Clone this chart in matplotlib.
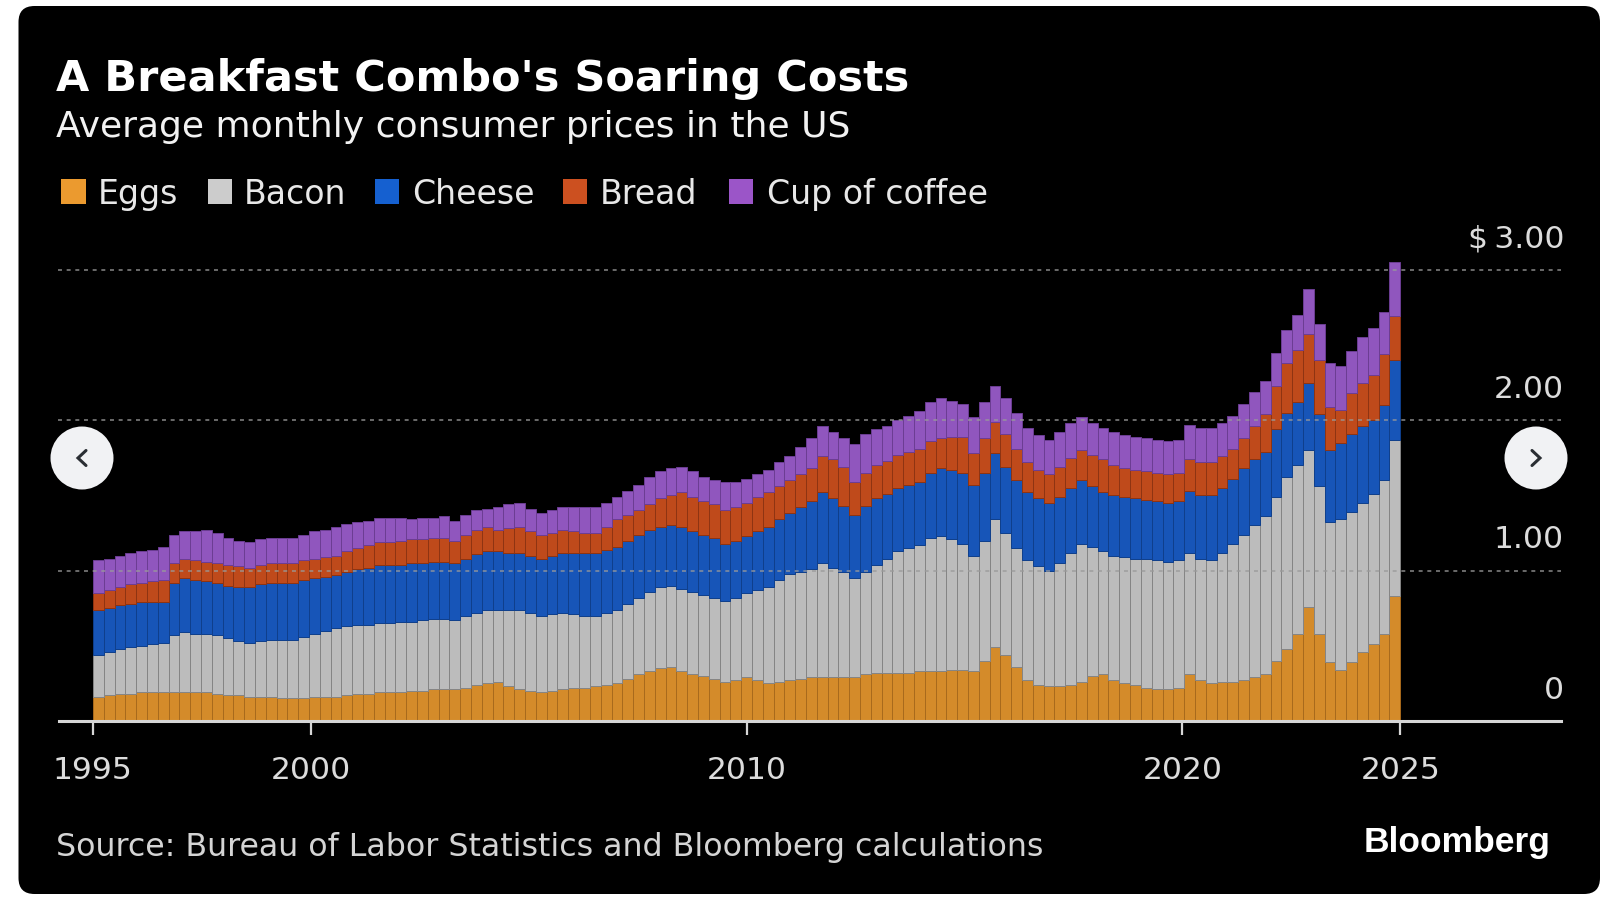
import numpy as np
import matplotlib
matplotlib.use("Agg")
import matplotlib.pyplot as plt
from matplotlib import font_manager
from matplotlib.patches import FancyBboxPatch, Rectangle, Circle
from matplotlib.lines import Line2D

# ---------------- data (quarterly, 1995Q1 .. 2025Q1), US$ ----------------
quarters = [f"{y}Q{q}" for y in range(1995, 2025) for q in range(1, 5)] + ["2025Q1"]

eggs = [
    .16, .17, .18, .18,  .19, .19, .19, .19,  .19, .19, .19, .18,  .17, .17, .16, .16,
    .16, .15, .15, .15,  .16, .16, .16, .17,  .18, .18, .19, .19,  .19, .20, .20, .21,
    .21, .21, .22, .24,  .25, .26, .23, .21,  .20, .19, .20, .21,  .22, .22, .23, .24,
    .25, .28, .31, .33,  .35, .36, .33, .31,  .30, .28, .26, .27,  .29, .27, .25, .26,
    .27, .28, .29, .29,  .29, .29, .29, .31,  .32, .32, .32, .32,  .33, .33, .33, .34,
    .34, .33, .40, .49,  .44, .36, .27, .24,  .23, .23, .24, .26,  .30, .31, .27, .25,
    .24, .22, .21, .21,  .22, .31, .27, .25,  .26, .26, .27, .29,  .31, .40, .48, .58,
    .76, .58, .39, .34,  .39, .46, .51, .58,  .83,
]
bacon = [
    .28, .29, .30, .31,  .31, .32, .33, .38,  .40, .39, .39, .39,  .38, .36, .36, .37,
    .38, .39, .39, .41,  .42, .44, .46, .46,  .46, .46, .46, .46,  .47, .46, .47, .47,
    .47, .46, .48, .48,  .49, .48, .51, .53,  .52, .51, .51, .51,  .49, .48, .47, .48,
    .49, .50, .51, .53,  .54, .54, .55, .55,  .54, .54, .54, .55,  .56, .60, .64, .68,
    .71, .71, .72, .76,  .73, .70, .66, .68,  .72, .76, .81, .83,  .84, .89, .90, .87,
    .84, .77, .80, .85,  .81, .79, .80, .79,  .77, .82, .88, .92,  .86, .82, .83, .84,
    .84, .86, .86, .85,  .85, .81, .81, .82,  .86, .92, .97, 1.01, 1.05, 1.09, 1.14, 1.12,
    1.04, .98, .93, 1.00, 1.00, .99, 1.00, 1.02, 1.04,
]
cheese = [
    .30, .29, .29, .29,  .29, .28, .27, .35,  .36, .36, .35, .35,  .35, .36, .37, .38,
    .38, .38, .38, .38,  .37, .36, .35, .36,  .37, .38, .39, .39,  .38, .39, .38, .38,
    .38, .38, .38, .39,  .39, .39, .38, .38,  .38, .38, .39, .40,  .41, .42, .42, .42,
    .42, .42, .42, .41,  .40, .40, .41, .40,  .40, .40, .38, .38,  .38, .39, .40, .40,
    .40, .43, .45, .47,  .46, .44, .42, .44,  .44, .43, .42, .42,  .42, .43, .45, .46,
    .47, .47, .45, .44,  .44, .45, .45, .45,  .45, .44, .43, .42,  .40, .39, .40, .40,
    .40, .39, .39, .39,  .39, .41, .42, .43,  .43, .43, .44, .44,  .43, .45, .43, .42,
    .45, .48, .48, .51,  .52, .51, .49, .50,  .53,
]
bread = [
    .11, .12, .12, .13,  .13, .14, .15, .13,  .13, .13, .13, .13,  .14, .14, .13, .13,
    .13, .13, .13, .13,  .13, .13, .13, .14,  .14, .15, .15, .15,  .16, .16, .16, .16,
    .16, .15, .16, .16,  .16, .14, .16, .17,  .16, .16, .15, .15,  .14, .13, .13, .15,
    .18, .17, .16, .17,  .19, .20, .23, .23,  .22, .22, .22, .22,  .22, .23, .23, .22,
    .22, .22, .22, .24,  .26, .26, .22, .22,  .22, .22, .22, .22,  .22, .21, .20, .22,
    .24, .21, .23, .21,  .22, .21, .20, .19,  .19, .20, .20, .20,  .21, .22, .20, .19,
    .19, .19, .19, .19,  .19, .21, .22, .22,  .21, .20, .20, .22,  .25, .29, .33, .35,
    .32, .36, .29, .22,  .27, .29, .30, .34,  .29,
]
coffee = [
    .22, .21, .21, .21,  .21, .21, .22, .19,  .18, .19, .21, .20,  .18, .17, .17, .17,
    .17, .17, .17, .17,  .18, .18, .19, .18,  .17, .16, .16, .16,  .15, .13, .14, .13,
    .14, .13, .13, .13,  .12, .15, .16, .16,  .15, .14, .15, .15,  .16, .17, .17, .16,
    .15, .16, .17, .18,  .18, .18, .17, .17,  .16, .16, .19, .17,  .16, .15, .15, .16,
    .16, .18, .20, .20,  .18, .19, .25, .26,  .24, .23, .23, .24,  .25, .26, .27, .24,
    .22, .24, .24, .24,  .24, .24, .23, .23,  .23, .23, .23, .22,  .21, .21, .22, .22,
    .22, .22, .22, .22,  .22, .23, .23, .23,  .22, .22, .23, .23,  .22, .22, .22, .23,
    .30, .24, .29, .29,  .28, .30, .31, .28,  .36,
]

series_names = ["Eggs", "Bacon", "Cheese", "Bread", "Cup of coffee"]
year_ticks = [1995, 2000, 2010, 2020, 2025]
y_ticks = [0, 1, 2, 3]
y_tick_labels = ["0", "1.00", "2.00", "$\u20093.00"]

title = "A Breakfast Combo's Soaring Costs"
subtitle = "Average monthly consumer prices in the US"
source = "Source: Bureau of Labor Statistics and Bloomberg calculations"
brand = "Bloomberg"

# ---------------- styles ----------------
face_colors = ["#d48b2a", "#bcbcbc", "#1755b8", "#bf4a1b", "#9056be"]
edge_colors = ["#a86a1c", "#858585", "#0f3f8c", "#8f3412", "#6c3d93"]
legend_colors = ["#eb9a2f", "#cccccc", "#1560d0", "#cc5020", "#9b55c8"]

names = {f.name for f in font_manager.fontManager.ttflist}
NARROW = "Liberation Sans Narrow" in names
body = ["Liberation Sans Narrow", "DejaVu Sans"] if NARROW else ["DejaVu Sans"]
k = 1.0 if NARROW else 0.74

W, H = 1608, 900
fig = plt.figure(figsize=(W / 100, H / 100), dpi=100)
fig.patch.set_facecolor("white")

card = FancyBboxPatch((0.185, 0.06), 15.815, 8.88,
                      boxstyle="round,pad=0,rounding_size=0.16",
                      transform=fig.dpi_scale_trans, facecolor="black",
                      edgecolor="none", zorder=-10)
fig.add_artist(card)

def fx(px):
    return px / W

def fy(py):
    return (H - py) / H

# axes: x from 58.5px to 1561px, zero line at 721px, 150.4 px per dollar
ymax = 3.2
ax = fig.add_axes([fx(58.5), fy(721), fx(1561) - fx(58.5), (ymax * 150.4) / H])
ax.set_facecolor("none")
ax.set_xlim(1994.21, 2028.69)
ax.set_ylim(0, ymax)

n = len(quarters)
edges = np.linspace(1995, 2025, n + 1)
xpos = edges[:-1]
widths = np.diff(edges)
bottom = np.zeros(n)
for vals, fc, ec in zip([eggs, bacon, cheese, bread, coffee], face_colors, edge_colors):
    vals = np.asarray(vals, dtype=float)
    ax.bar(xpos, vals, width=widths, bottom=bottom, align="edge",
           color=fc, edgecolor=ec, linewidth=0.7, zorder=2)
    bottom += vals

for v in y_ticks[1:]:
    ax.axhline(v, color="#9a9a9a", lw=1.3, ls=(0, (2.2, 2.6)), alpha=0.75, zorder=3)

for sp in ["top", "right", "left"]:
    ax.spines[sp].set_visible(False)
ax.spines["bottom"].set_color("#d6d6d6")
ax.spines["bottom"].set_linewidth(2.2)
ax.spines["bottom"].set_zorder(4)
ax.set_yticks([])
ax.set_xticks(year_ticks)
ax.set_xticklabels([])
ax.tick_params(axis="x", direction="out", length=10, width=1.6, color="#d6d6d6")

tick_color = "#dcdcdc"
for yr in year_ticks:
    ax.annotate(str(yr), xy=(yr, 0), xycoords=ax.get_xaxis_transform(),
                xytext=(0, -41.5), textcoords="offset points",
                ha="center", va="baseline", fontsize=30.5 * k, family=body,
                color=tick_color)
for v, lab in zip(y_ticks, y_tick_labels):
    ax.annotate(lab, xy=(1, v), xycoords=ax.get_yaxis_transform(),
                xytext=(2.2, 16.0), textcoords="offset points",
                ha="right", va="baseline", fontsize=30.5 * k, family=body,
                color=tick_color)

# ---------------- titles ----------------
fig.text(fx(56), fy(91.5), title, fontsize=31, fontweight="bold",
         family=["DejaVu Sans"], color="white", va="baseline", ha="left")
fig.text(fx(56), fy(136.5), subtitle, fontsize=35.2 * k, family=body,
         color="#f2f2f2", va="baseline", ha="left")

# ---------------- legend ----------------
sq_left = [61.5, 208, 375, 563, 729]
txt_left = [98, 244, 412, 600, 767]
for name, col, sl, tl in zip(series_names, legend_colors, sq_left, txt_left):
    fig.add_artist(Rectangle((fx(sl), fy(204)), 24.5 / W, 24.5 / H,
                             transform=fig.transFigure, facecolor=col,
                             edgecolor="none"))
    fig.text(fx(tl), fy(204), name, fontsize=32.3 * k, family=body,
             color="#e8e8e8", va="baseline", ha="left")

# ---------------- footer ----------------
fig.text(fx(56), fy(856), source, fontsize=30.8 * k, family=body,
         color="#d4d4d4", va="baseline", ha="left")
fig.text(fx(1551), fy(852), brand, fontsize=25.5, fontweight="bold",
         family=["Liberation Sans", "DejaVu Sans"], color="white",
         va="baseline", ha="right")

# ---------------- carousel buttons ----------------
for cx, sgn in [(0.82, -1), (15.36, 1)]:
    cy = 4.42
    fig.add_artist(Circle((cx, cy), 0.315, transform=fig.dpi_scale_trans,
                          facecolor="#f1f2f4", edgecolor="none", zorder=10))
    fig.add_artist(Line2D([cx - sgn * 0.04, cx + sgn * 0.04, cx - sgn * 0.04],
                          [cy + 0.075, cy, cy - 0.075],
                          transform=fig.dpi_scale_trans, color="#2a2e33",
                          lw=2.2, solid_capstyle="round",
                          solid_joinstyle="miter", zorder=11))

fig.savefig("out.png", dpi=100, facecolor="white")
